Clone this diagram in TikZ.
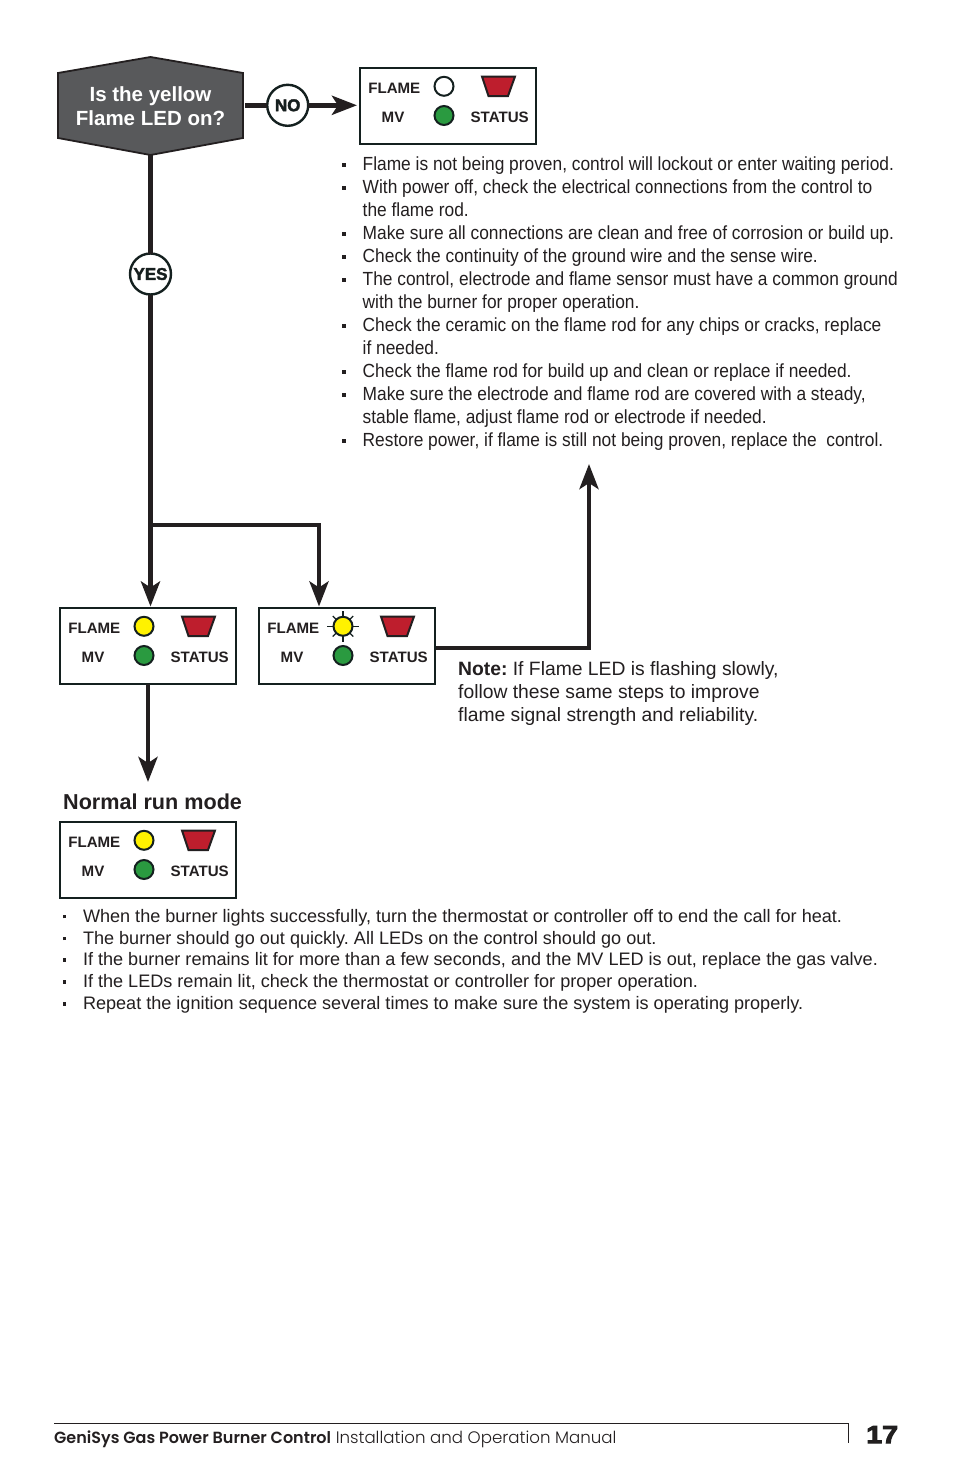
\documentclass[tikz,border=0pt]{standalone}
\usepackage{fontspec}
\setmainfont{Liberation Sans}
\newfontfamily\condf[FakeStretch=0.913]{Liberation Sans}
\newfontfamily\widebold[FakeStretch=1.17,BoldFont={Liberation Sans Bold}]{Liberation Sans Bold}
\newfontfamily\footb[FakeStretch=0.99]{Poppins SemiBold}
\newfontfamily\footl{Poppins Light}
\usetikzlibrary{arrows.meta}
\definecolor{ink}{HTML}{231F20}
\definecolor{boxink}{HTML}{14201F}
\definecolor{hexfill}{HTML}{58595B}
\definecolor{ledyellow}{HTML}{FFF200}
\definecolor{ledgreen}{HTML}{2A9A40}
\definecolor{statusred}{HTML}{BE1E2D}
\newcommand{\blt}{\makebox[20.5pt][l]{\raisebox{4pt}{\rule{3.6pt}{3.6pt}}}}
\newcommand{\nob}{\hspace*{20.5pt}}
\newcommand{\heavytext}[2]{\special{pdf: code q 2 Tr #1 w 0.12 0.12 0.12 RG}#2\special{pdf: code Q}}
\frenchspacing
\tikzset{
  panelbox/.style={draw=boxink,line width=1.8pt,minimum width=176pt,minimum height=76pt,inner sep=0pt,outer sep=0pt,anchor=north west},
  panellabel/.style={text=ink,font=\bfseries\fontsize{15.1}{15}\selectfont,inner sep=0pt},
  led/.style={circle,draw=boxink,line width=2pt,minimum size=19pt,inner sep=0pt,outer sep=0pt},
  statuslamp/.style={fill=statusred,draw=ink,line width=2pt,line join=miter},
  flow/.style={draw=ink,line width=4.6pt},
  flowtip/.style={flow,-{Stealth[length=25pt,width=19pt,inset=6pt]}},
  answer/.style={circle,draw=boxink,fill=white,line width=2.4pt,minimum size=41pt,inner sep=0pt,outer sep=0pt,text=boxink,font=\bfseries\fontsize{17}{17}\selectfont},
  listtext/.style={text=ink,align=left,inner sep=0pt,anchor=north west},
}
\newcommand{\ledpanel}[4]{%
  \node[panelbox] (#1) at (#2,#3) {};
  \begin{scope}[shift={(#2,#3)}]
    \node[panellabel] (#1flame) at (34.3,20.2) {FLAME};
    \node[panellabel] (#1mv) at (33,49.3) {MV};
    \node[panellabel] (#1status) at (139.7,49.3) {STATUS};
    \node[led,fill=#4] (#1led) at (84,18.3) {};
    \node[led,fill=ledgreen] (#1mvled) at (84,47.5) {};
    \draw[statuslamp] (122,8.5) -- (155,8.5) -- (148,28) -- (128.5,28) -- cycle;
  \end{scope}}
\begin{document}
\begin{tikzpicture}[x=1pt,y=-1pt]
\useasboundingbox[fill=white] (0,0) rectangle (954,1475);
% question
\node[minimum width=186pt,minimum height=98pt,inner sep=0pt,outer sep=0pt] (q) at (150.5,106) {};
\draw[fill=hexfill,draw=ink,line width=1.8pt] (58,73) -- (150.5,57) -- (243,73) -- (243,138) -- (150.5,155) -- (58,138) -- cycle;
\node[text=white,align=center,inner sep=0pt,font=\bfseries\fontsize{20.5}{23.5}\selectfont] (qtext) at (150.5,106) {Is the yellow\\Flame LED on?};
% panels
\ledpanel{d}{360}{68}{white}
\ledpanel{a}{60}{608}{ledyellow}
\ledpanel{b}{259}{608}{ledyellow}
\ledpanel{c}{60}{822}{ledyellow}
\foreach \a/\r in {0/15.8,45/14.5,90/15.8,135/14.5,180/15.8,225/14.5,270/15.8,315/14.5}
  \draw[draw=boxink,line width=1.2pt] ([shift={(\a:9)}]bled.center) -- ([shift={(\a:\r)}]bled.center);
% answers
\node[answer] (no) at (287.7,105.3) {\heavytext{0.4}{NO}};
\node[answer] (yes) at (150.5,274) {\heavytext{0.4}{YES}};
% coordinates
\coordinate (qout) at (245,105.3);
\coordinate (dtip) at (357,105.3);
\coordinate (atip) at (150.5,606.5);
\coordinate (branch) at (150.5,525);
\coordinate (bcorner) at (319,525);
\coordinate (btip) at (319,606.5);
\coordinate (bout) at (436,648);
\coordinate (upcorner) at (589,648);
\coordinate (uptip) at (589,464);
\coordinate (ntip) at (148,782);
% connectors
\draw[flow] (qout) -- (no.west);
\draw[flowtip] (no.east) -- (dtip);
\draw[flow] (q.south) -- (yes.north);
\draw[flowtip] (yes.south) -- (atip);
\draw[flowtip,line join=miter] (branch) -- (bcorner) -- (btip);
\draw[flowtip,line join=miter] (bout) -- (upcorner) -- (uptip);
\draw[flowtip] (a.south) -- (ntip);
% texts
\node[listtext,font=\condf\fontsize{19}{23}\selectfont] (steps) at (342,157) {%
\blt Flame is not being proven, control will lockout or enter waiting period.\\
\blt With power off, check the electrical connections from the control to\\
\nob the flame rod.\\
\blt Make sure all connections are clean and free of corrosion or build up.\\
\blt Check the continuity of the ground wire and the sense wire.\\
\blt The control, electrode and flame sensor must have a common ground\\
\nob with the burner for proper operation.\\
\blt Check the ceramic on the flame rod for any chips or cracks, replace\\
\nob if needed.\\
\blt Check the flame rod for build up and clean or replace if needed.\\
\blt Make sure the electrode and flame rod are covered with a steady,\\
\nob stable flame, adjust flame rod or electrode if needed.\\
\blt Restore power, if flame is still not being proven, replace the\ \ control.};
\node[listtext,font=\fontsize{19.3}{23}\selectfont] (note) at (458,661) {\textbf{Note:} If Flame LED is flashing slowly,\\follow these same steps to improve\\flame signal strength and reliability.};
\node[inner sep=0pt,text=ink,anchor=west,font=\bfseries\fontsize{21.6}{22}\selectfont] (normal) at (63,802) {Normal run mode};
\node[listtext,font=\fontsize{18.08}{21.8}\selectfont] (final) at (62.3,909) {%
\blt When the burner lights successfully, turn the thermostat or controller off to end the call for heat.\\
\blt The burner should go out quickly. All LEDs on the control should go out.\\
\blt If the burner remains lit for more than a few seconds, and the MV LED is out, replace the gas valve.\\
\blt If the LEDs remain lit, check the thermostat or controller for proper operation.\\
\blt Repeat the ignition sequence several times to make sure the system is operating properly.};
% footer
\coordinate (fl) at (54,1423.5);
\coordinate (fr) at (848,1423.5);
\coordinate (fb) at (848,1443);
\draw[draw=ink,line width=1pt] (fl) -- (fr) -- (fb);
\node[inner sep=0pt,anchor=base west,text=ink,font=\fontsize{16.5}{17}\selectfont] (foot) at (54,1443) {{\footb\fontsize{16.17}{17}\selectfont GeniSys Gas Power Burner Control} {\footl\fontsize{16.64}{17}\selectfont Installation and Operation Manual}};
\node[inner sep=0pt,anchor=base west,text=ink,font=\widebold\fontsize{24.5}{25}\selectfont] (page) at (866,1443) {\heavytext{1}{17}};
\end{tikzpicture}
\end{document}
